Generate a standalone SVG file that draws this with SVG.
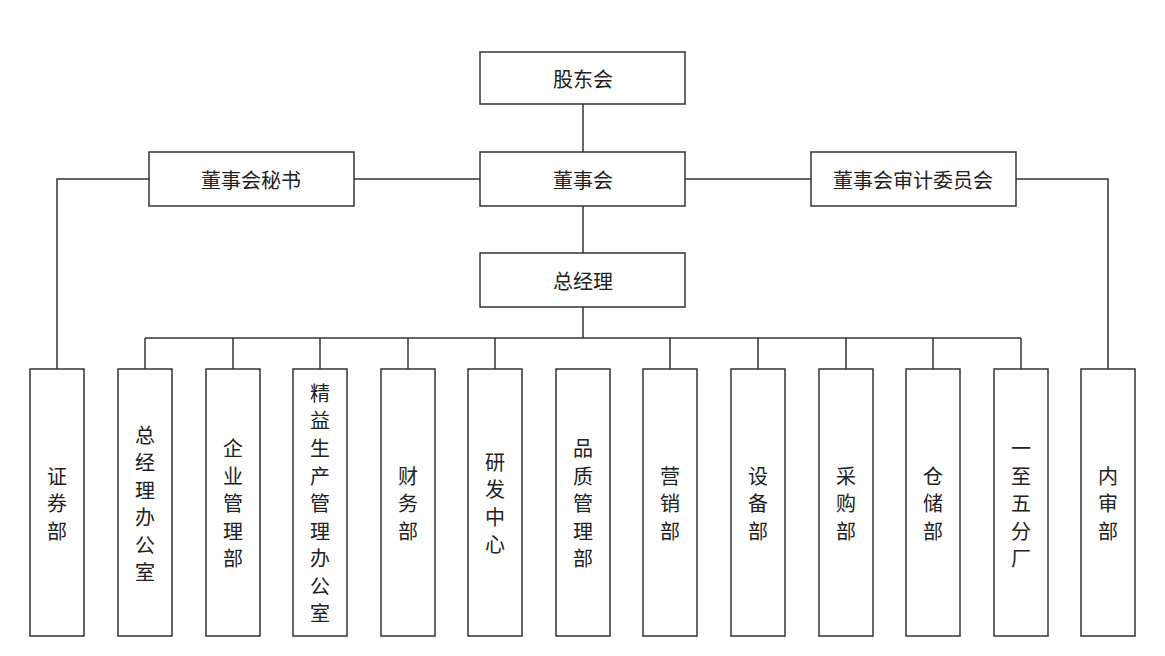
<svg xmlns="http://www.w3.org/2000/svg" width="1165" height="656" viewBox="0 0 1165 656">
<style>
rect{fill:#fff;stroke:#333;stroke-width:1.5}
text{font-family:"Noto Sans CJK SC","Noto Sans CJK JP",sans-serif;font-size:20px;fill:#222;text-anchor:middle;dominant-baseline:central}
.c line,.c polyline{stroke:#333;stroke-width:1.5;fill:none}
</style>
<rect x="0" y="0" width="1165" height="656" style="stroke:none"/>
<g class="c" id="connectors">
<line x1="583" y1="104" x2="583" y2="152"/>
<line x1="583" y1="206" x2="583" y2="253"/>
<line x1="583" y1="307" x2="583" y2="338"/>
<line x1="354" y1="179" x2="480" y2="179"/>
<line x1="685" y1="179" x2="811" y2="179"/>
<polyline points="149,179 57,179 57,369"/>
<polyline points="1016,179 1108,179 1108,369"/>
<line x1="145" y1="338" x2="1021" y2="338"/>
<line x1="145" y1="338" x2="145" y2="369"/>
<line x1="233" y1="338" x2="233" y2="369"/>
<line x1="320" y1="338" x2="320" y2="369"/>
<line x1="408" y1="338" x2="408" y2="369"/>
<line x1="495" y1="338" x2="495" y2="369"/>
<line x1="670" y1="338" x2="670" y2="369"/>
<line x1="758" y1="338" x2="758" y2="369"/>
<line x1="846" y1="338" x2="846" y2="369"/>
<line x1="933" y1="338" x2="933" y2="369"/>
<line x1="1021" y1="338" x2="1021" y2="369"/>
</g>
<g id="gdh"><rect x="480" y="52" width="205" height="52"/><text x="583" y="78">股东会</text></g>
<g id="dsh"><rect x="480" y="152" width="205" height="54"/><text x="583" y="179">董事会</text></g>
<g id="ms"><rect x="149" y="152" width="205" height="54"/><text x="251" y="179">董事会秘书</text></g>
<g id="sj"><rect x="811" y="152" width="205" height="54"/><text x="913" y="179">董事会审计委员会</text></g>
<g id="zjl"><rect x="480" y="253" width="205" height="54"/><text x="583" y="280">总经理</text></g>
<g id="n1"><rect x="30" y="369" width="54" height="267"/><text x="57" y="475">证</text><text x="57" y="502.5">券</text><text x="57" y="530">部</text></g>
<g id="n2"><rect x="118" y="369" width="54" height="267"/><text x="145" y="434">总</text><text x="145" y="461.5">经</text><text x="145" y="489">理</text><text x="145" y="516.5">办</text><text x="145" y="544">公</text><text x="145" y="571.5">室</text></g>
<g id="n3"><rect x="206" y="369" width="54" height="267"/><text x="233" y="447.5">企</text><text x="233" y="475">业</text><text x="233" y="502.5">管</text><text x="233" y="530">理</text><text x="233" y="557.5">部</text></g>
<g id="n4"><rect x="293" y="369" width="54" height="267"/><text x="320" y="392">精</text><text x="320" y="419.5">益</text><text x="320" y="447">生</text><text x="320" y="475">产</text><text x="320" y="502.5">管</text><text x="320" y="530">理</text><text x="320" y="557.5">办</text><text x="320" y="585">公</text><text x="320" y="612.5">室</text></g>
<g id="n5"><rect x="381" y="369" width="54" height="267"/><text x="408" y="475">财</text><text x="408" y="502.5">务</text><text x="408" y="530">部</text></g>
<g id="n6"><rect x="468" y="369" width="54" height="267"/><text x="495" y="461">研</text><text x="495" y="488.5">发</text><text x="495" y="516">中</text><text x="495" y="543.5">心</text></g>
<g id="n7"><rect x="556" y="369" width="54" height="267"/><text x="583" y="447.5">品</text><text x="583" y="475">质</text><text x="583" y="502.5">管</text><text x="583" y="530">理</text><text x="583" y="557.5">部</text></g>
<g id="n8"><rect x="643" y="369" width="54" height="267"/><text x="670" y="475">营</text><text x="670" y="502.5">销</text><text x="670" y="530">部</text></g>
<g id="n9"><rect x="731" y="369" width="54" height="267"/><text x="758" y="475">设</text><text x="758" y="502.5">备</text><text x="758" y="530">部</text></g>
<g id="n10"><rect x="819" y="369" width="54" height="267"/><text x="846" y="475">采</text><text x="846" y="502.5">购</text><text x="846" y="530">部</text></g>
<g id="n11"><rect x="906" y="369" width="54" height="267"/><text x="933" y="475">仓</text><text x="933" y="502.5">储</text><text x="933" y="530">部</text></g>
<g id="n12"><rect x="994" y="369" width="54" height="267"/><text x="1021" y="447.5">一</text><text x="1021" y="475">至</text><text x="1021" y="502.5">五</text><text x="1021" y="530">分</text><text x="1021" y="557.5">厂</text></g>
<g id="n13"><rect x="1081" y="369" width="54" height="267"/><text x="1108" y="475">内</text><text x="1108" y="502.5">审</text><text x="1108" y="530">部</text></g>
</svg>
